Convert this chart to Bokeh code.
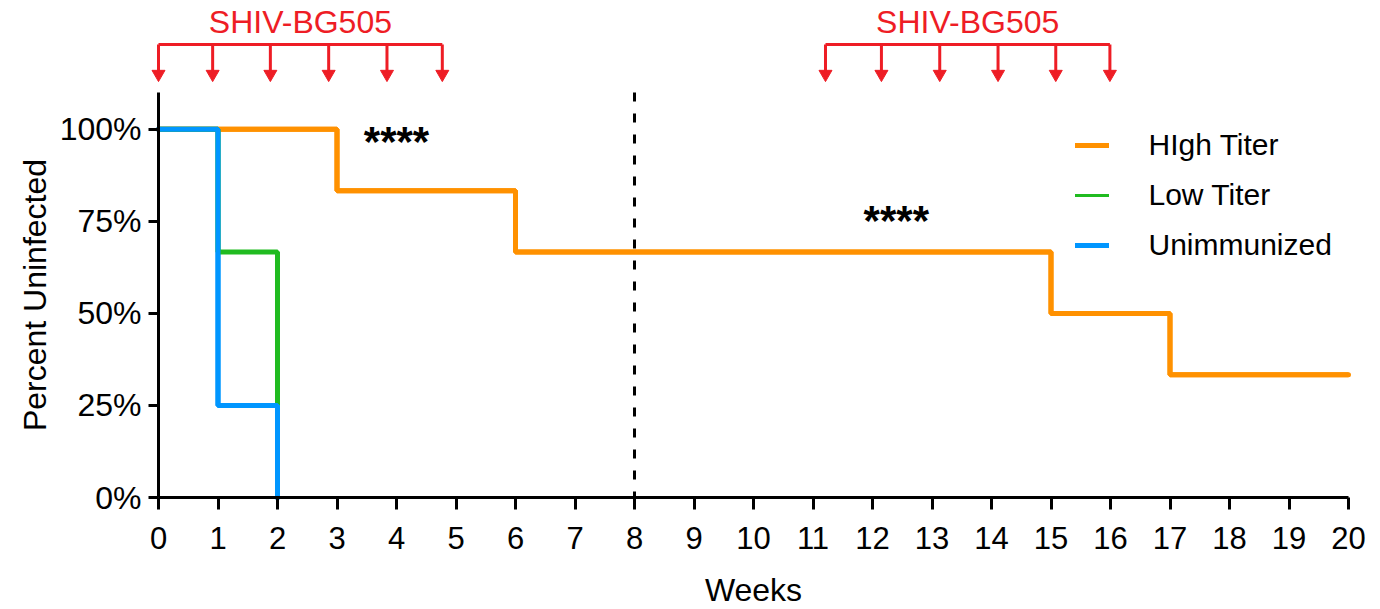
import math
from bokeh.plotting import figure
from bokeh.models import Range1d, FixedTicker, Legend, LegendItem
from bokeh.embed import file_html
from bokeh.resources import INLINE
from bokeh.core.properties import value

# ---------------- data ----------------
week_ticks = list(range(0, 21))
pct_ticks = [0, 25, 50, 75, 100]
pct_labels = ["0%", "25%", "50%", "75%", "100%"]

high_weeks = [0, 3, 6, 15, 17, 20]
high_pct = [100, 83.33, 66.67, 50, 33.33, 33.33]
low_weeks = [0, 1, 2]
low_pct = [100, 66.67, 0]
unimm_weeks = [0, 1, 2]
unimm_pct = [100, 25, 0]

series_names = ["HIgh Titer", "Low Titer", "Unimmunized"]

challenge1_weeks = [0.0, 0.91, 1.88, 2.86, 3.84, 4.77]
challenge2_weeks = [11.21, 12.15, 13.13, 14.11, 15.08, 15.99]
challenge_label = "SHIV-BG505"

sig_weeks = [4.0, 12.4]
sig_pct = [96.8, 75.2]
sig_text = ["****", "****"]

divider_week = 8
x_title = "Weeks"
y_title = "Percent Uninfected"

# ---------------- layout / style ----------------
FONT = "Liberation Sans"
ORANGE = "#FF9100"
GREEN = "#20BB20"
BLUE = "#0096FF"
RED = "#EE1D25"

W, H = 1376, 609
PX_X0, PX_PER_WEEK = 158.0, 59.5        # canvas x of week 0, px per week
PX_Y0, PX_PER_PCT = 497.0, 405.0 / 110  # canvas y of 0 %, px per percent

x_range = Range1d(-PX_X0 / PX_PER_WEEK, (W - PX_X0) / PX_PER_WEEK)
y_range = Range1d(-(H - PX_Y0) / PX_PER_PCT, PX_Y0 / PX_PER_PCT)

p = figure(width=W, height=H, x_range=x_range, y_range=y_range,
           output_backend="svg", toolbar_location=None,
           min_border_left=0, min_border_right=0,
           min_border_top=0, min_border_bottom=0)
p.outline_line_color = None
p.grid.visible = False
p.background_fill_color = "white"

# legend proxies (drawn underneath the real curves)
lh = p.step(high_weeks, high_pct, mode="after", line_color=ORANGE,
            line_width=5, line_cap="round")
ll = p.step(low_weeks, low_pct, mode="after", line_color=GREEN,
            line_width=3, line_cap="round")
lu = p.step(unimm_weeks, unimm_pct, mode="after", line_color=BLUE,
            line_width=5, line_cap="round")

# survival curves
p.step(high_weeks, high_pct, mode="after", line_color=ORANGE, line_width=5)
p.step(low_weeks, low_pct, mode="after", line_color=GREEN, line_width=5)
p.step(unimm_weeks, unimm_pct, mode="after", line_color=BLUE, line_width=5,
       line_cap="round")

# dashed divider
p.segment(x0=[divider_week], y0=[110], x1=[divider_week], y1=[0],
          line_color="black", line_width=3, line_dash="9 12")

# challenge brackets
Y_BAR = 123.04
Y_STEM = 115.6
Y_HEAD = 115.0
Y_TXT = 129.15
for arr in (challenge1_weeks, challenge2_weeks):
    n = len(arr)
    p.segment(x0=[arr[0]], y0=[Y_BAR], x1=[arr[-1]], y1=[Y_BAR],
              line_color=RED, line_width=3)
    p.segment(x0=arr, y0=[Y_BAR] * n, x1=arr, y1=[Y_STEM] * n,
              line_color=RED, line_width=3)
    p.scatter(x=arr, y=[Y_HEAD] * n, marker="inverted_triangle", size=13,
              fill_color=RED, line_color=RED, line_width=1)
    p.text(x=[(arr[0] + arr[-1]) / 2], y=[Y_TXT], text=[challenge_label],
           text_align="center", text_baseline="middle",
           text_font=value(FONT), text_font_size="32px", text_color=RED)

# significance stars
p.text(x=sig_weeks, y=sig_pct, text=sig_text, text_align="center",
       text_baseline="middle", text_font=value(FONT),
       text_font_size="42px", text_font_style="bold", text_color="black")

# axis titles
p.text(x=[10], y=[-25.2], text=[x_title], text_align="center",
       text_baseline="middle", text_font=value(FONT),
       text_font_size="32px", text_color="black")
p.text(x=[-2.076], y=[55.0], text=[y_title], angle=math.pi / 2,
       text_align="center", text_baseline="middle", text_font=value(FONT),
       text_font_size="32px", text_color="black")

# legend
legend = Legend(items=[LegendItem(label=series_names[0], renderers=[lh]),
                       LegendItem(label=series_names[1], renderers=[ll]),
                       LegendItem(label=series_names[2], renderers=[lu])],
                location=(1074.5, 347), glyph_width=34, glyph_height=30,
                label_standoff=40, spacing=16, padding=0, margin=0,
                border_line_alpha=0, background_fill_alpha=0,
                label_text_font=FONT, label_text_font_size="30px",
                label_height=30, label_text_color="black")
p.add_layout(legend)

# axes
for ax in (p.xaxis[0], p.yaxis[0]):
    ax.fixed_location = 0
    ax.axis_line_width = 3
    ax.axis_line_color = "black"
    ax.major_tick_line_width = 3
    ax.major_tick_line_color = "black"
    ax.major_tick_in = 0
    ax.minor_tick_in = 0
    ax.minor_tick_out = 0
    ax.major_label_text_font = FONT
    ax.major_label_text_color = "black"

p.xaxis.ticker = FixedTicker(ticks=week_ticks)
p.xaxis.bounds = (0, 20)
p.xaxis.major_tick_out = 12
p.xaxis.major_label_standoff = 17
p.xaxis.major_label_text_font_size = "31px"

p.yaxis.ticker = FixedTicker(ticks=pct_ticks)
p.yaxis.major_label_overrides = dict(zip(pct_ticks, pct_labels))
p.yaxis.bounds = (0, 110)
p.yaxis.major_tick_out = 10
p.yaxis.major_label_standoff = 7
p.yaxis.major_label_text_font_size = "32px"

open("out.html", "w").write(file_html(p, INLINE))
